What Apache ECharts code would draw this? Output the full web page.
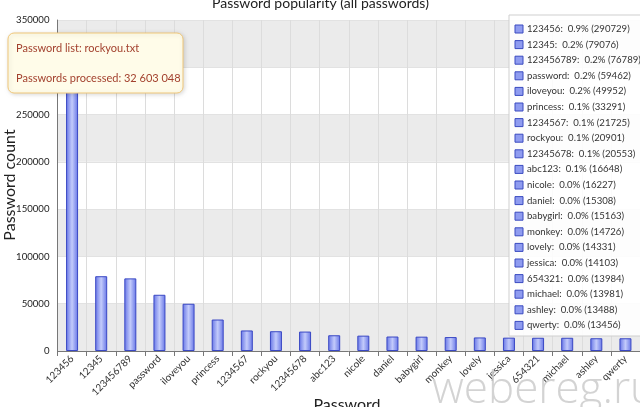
<!DOCTYPE html>
<html><head><meta charset="utf-8">
<script src="https://cdn.jsdelivr.net/npm/echarts@6/dist/echarts.min.js"></script>
<style>html,body{margin:0;padding:0;background:#fff}#c{width:640px;height:407px}</style>
</head><body><div id="c"></div>
<script>
const categories = ['123456','12345','123456789','password','iloveyou','princess','1234567','rockyou','12345678','abc123','nicole','daniel','babygirl','monkey','lovely','jessica','654321','michael','ashley','qwerty'];
const counts = [290729,79076,76789,59462,49952,33291,21725,20901,20553,16648,16227,15308,15163,14726,14331,14103,13984,13981,13488,13456];
const totalProcessed = 32603048;
const yTicks = [0,50000,100000,150000,200000,250000,300000,350000];
const infoLines = ['Password list: rockyou.txt','Passwords processed: 32 603 048'];
const axisNames = {x:'Password', y:'Password count'};

const FONT = 'Lato, "Open Sans", sans-serif';
const chart = echarts.init(document.getElementById('c'), null, {renderer:'canvas'});

const legendEls = [];
legendEls.push({type:'rect', shape:{x:509,y:15,width:135,height:321}, style:{fill:'rgba(255,255,255,0.88)', stroke:'#cfcfcf', lineWidth:1}, z:10});
categories.forEach((c,i)=>{
  const y = 29 + i*15.6;
  legendEls.push({type:'rect', shape:{x:515,y:y-4,width:8,height:8}, style:{fill:'#8f9cf0', stroke:'#3a4ac0', lineWidth:1}, z:11});
  const pct = (counts[i]/totalProcessed*100).toFixed(1);
  legendEls.push({type:'text', x:527, y:y, style:{text:c+':  '+pct+'% ('+counts[i]+')', font:'9.6px '+FONT, fill:'#333', textVerticalAlign:'middle'}, z:11});
});

chart.setOption({
  animation:false,
  title:{text:'Password popularity (all passwords)', left:207, top:-9, textStyle:{fontFamily:FONT, fontSize:14, fontWeight:'normal', color:'#222'}},
  grid:{left:57.5, right:0, top:20, bottom:56, containLabel:false, outerBoundsMode:'none'},
  xAxis:{type:'category', data:categories, boundaryGap:true,
    axisLine:{lineStyle:{color:'#777'}}, axisTick:{show:true, lineStyle:{color:'#777'}, length:5},
    axisLabel:{rotate:45, fontFamily:FONT, fontSize:10, color:'#333', margin:6, interval:0},
    splitLine:{show:true, lineStyle:{color:'#dcdcdc'}}},
  yAxis:{type:'value', min:yTicks[0], max:yTicks[yTicks.length-1], interval:50000,
    axisLine:{show:true, lineStyle:{color:'#777'}}, axisTick:{show:false},
    axisLabel:{fontFamily:FONT, fontSize:9.6, color:'#222', margin:8, formatter:v=>String(v)},
    splitLine:{show:true, lineStyle:{color:'#e2e2e2'}},
    splitArea:{show:true, areaStyle:{color:['#ebebeb','#ffffff']}}},
  series:[{type:'bar', data:counts, barWidth:12,
    itemStyle:{color:new echarts.graphic.LinearGradient(0,0,1,0,[{offset:0,color:'#6574e6'},{offset:0.5,color:'#c3cbfb'},{offset:1,color:'#6574e6'}]), borderColor:'#3a48c4', borderWidth:1}}],
  graphic:[
    {type:'text', x:10, y:185, rotation:Math.PI/2, style:{text:axisNames.y, font:'16px '+FONT, fill:'#222', textAlign:'center', textVerticalAlign:'middle'}, z:5},
    {type:'text', x:347, y:405, style:{text:axisNames.x, font:'16px '+FONT, fill:'#222', textAlign:'center', textVerticalAlign:'middle'}, z:5},
    {type:'rect', shape:{x:8,y:33,width:175,height:60,r:6}, style:{fill:'#fffce9', stroke:'#f0c77a', lineWidth:1, shadowBlur:4, shadowColor:'rgba(0,0,0,0.15)', shadowOffsetX:1, shadowOffsetY:1}, z:10},
    {type:'text', x:16, y:48, style:{text:infoLines[0], font:'11px '+FONT, fill:'#a3412e', textVerticalAlign:'middle'}, z:11},
    {type:'text', x:16, y:78, style:{text:infoLines[1], font:'11px '+FONT, fill:'#a3412e', textVerticalAlign:'middle'}, z:11},
    {type:'text', x:432, y:390, style:{text:'webereg.ru', font:'300 44px "Open Sans", sans-serif', fill:'rgba(200,200,200,0.8)', textVerticalAlign:'middle'}, z:12}
  ].concat(legendEls)
});
</script></body></html>
